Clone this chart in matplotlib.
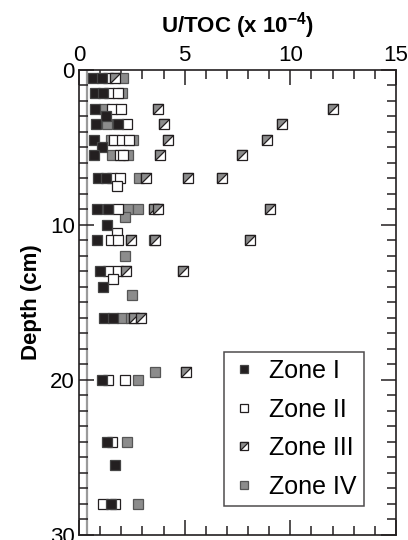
import matplotlib
matplotlib.use("Agg")
import matplotlib.pyplot as plt
from matplotlib.path import Path
from matplotlib.ticker import MultipleLocator
from matplotlib.legend_handler import HandlerTuple

plt.rcParams['font.family'] = ['Liberation Sans', 'DejaVu Sans']
plt.rcParams['mathtext.fontset'] = 'custom'
plt.rcParams['mathtext.rm'] = 'Liberation Sans:bold'
plt.rcParams['mathtext.bf'] = 'Liberation Sans:bold'

# depth (cm) and U/TOC (x 1e-4) for each zone
z1_depth = [0.5, 0.5, 1.5, 1.5, 2.5, 3.0, 3.5, 3.5, 4.5, 5.0, 5.5, 7.0, 7.0, 9.0, 9.0,
            10.0, 11.0, 13.0, 14.0, 16.0, 16.0, 20.0, 24.0, 25.5, 28.0]
z1_val = [0.68, 1.09, 0.76, 1.15, 0.76, 1.28, 0.79, 1.86, 0.73, 1.10, 0.73, 0.88, 1.28, 0.84, 1.39,
          1.34, 0.84, 0.99, 1.15, 1.18, 1.63, 1.07, 1.31, 1.70, 1.50]

z2_depth = [0.5, 1.5, 1.5, 2.5, 2.5, 3.5, 4.5, 4.5, 4.5, 5.5, 5.5, 7.0, 7.0, 7.5, 9.0,
            10.5, 11.0, 11.0, 13.0, 13.0, 13.5, 20.0, 20.0, 24.0, 28.0, 28.0]
z2_val = [1.39, 1.44, 1.83, 1.55, 2.00, 2.26, 1.67, 2.02, 2.37, 1.95, 2.10, 1.57, 1.96, 1.78, 1.86,
          1.78, 1.51, 1.86, 1.39, 1.86, 1.63, 1.39, 2.18, 1.55, 1.12, 1.70]

z3_depth = [0.5, 2.5, 2.5, 3.5, 3.5, 4.5, 4.5, 5.5, 5.5, 7.0, 7.0, 7.0, 9.0, 9.0, 9.0,
            11.0, 11.0, 11.0, 13.0, 13.0, 16.0, 16.0, 19.5]
z3_val = [1.70, 3.72, 12.0, 4.00, 9.61, 4.22, 8.88, 3.83, 7.71, 3.16, 5.14, 6.75, 3.55, 3.75, 9.04,
          2.45, 3.62, 8.09, 2.21, 4.94, 2.60, 2.95, 5.06]

z4_depth = [0.5, 1.5, 2.5, 3.5, 4.5, 4.5, 5.5, 5.5, 7.0, 9.0, 9.0, 9.5, 11.0, 12.0,
            14.5, 16.0, 16.0, 19.5, 20.0, 24.0, 28.0]
z4_val = [2.07, 2.05, 1.20, 1.34, 1.50, 2.55, 1.55, 2.33, 2.84, 2.30, 2.78, 2.18, 3.55, 2.18,
          2.52, 2.05, 2.45, 3.60, 2.78, 2.29, 2.78]

black = '#231f20'
grey = '#8c8c8c'
ms = 7.0

# upper-left half of a square, for the zone III symbol
half_sq = Path([(-1, -1), (-1, 1), (1, 1), (-1, -1)],
               [Path.MOVETO, Path.LINETO, Path.LINETO, Path.CLOSEPOLY])

fig = plt.figure(figsize=(4.08, 5.4), dpi=100)
ax = fig.add_axes([0.1936, 0.0093, 0.777, 0.8611])

ax.axvline(0.36, color='#9a9a9a', lw=1.6, zorder=1)

ax.plot(z4_val, z4_depth, 's', ms=ms, mfc=grey, mec='#555555', mew=0.9, zorder=3)
h2, = ax.plot(z2_val, z2_depth, 's', ms=ms, mfc='white', mec=black, mew=0.9, zorder=4)
h3a, = ax.plot(z3_val, z3_depth, 's', ms=ms, mfc='white', mec=black, mew=0.9, zorder=5)
h3b, = ax.plot(z3_val, z3_depth, ls='none', marker=half_sq, ms=ms, mfc=grey, mec=black,
               mew=0.9, zorder=5)
h1, = ax.plot(z1_val, z1_depth, 's', ms=ms, mfc=black, mec='#444444', mew=0.9, zorder=6)
h4, = ax.plot([], [], 's', ms=ms, mfc=grey, mec='#555555', mew=0.9)

ax.set_xlim(0, 15)
ax.set_ylim(30, 0)
ax.xaxis.set_major_locator(MultipleLocator(5))
ax.xaxis.set_minor_locator(MultipleLocator(1))
ax.yaxis.set_major_locator(MultipleLocator(10))
ax.yaxis.set_minor_locator(MultipleLocator(1))
ax.tick_params(which='both', direction='in', top=True, bottom=True, left=True, right=True,
               labeltop=True, labelbottom=False, labelsize=16, width=1.1, color='#231f20')
ax.tick_params(which='major', length=11, pad=3)
ax.tick_params(which='minor', length=6.5)
for s in ax.spines.values():
    s.set_linewidth(1.2)
    s.set_color('#231f20')

ax.xaxis.set_label_position('top')
ax.set_xlabel('U/TOC (x 10$^{-4}$)', fontsize=16, fontweight='bold', labelpad=9)
ax.set_ylabel('Depth (cm)', fontsize=16, fontweight='bold', labelpad=6)

leg = ax.legend([h1, h2, (h3a, h3b), h4], ['Zone I', 'Zone II', 'Zone III', 'Zone IV'],
                handler_map={tuple: HandlerTuple(ndivide=1)},
                loc='lower right', bbox_to_anchor=(0.899, 0.062), borderaxespad=0,
                fontsize=18, markerscale=0.75, frameon=True, fancybox=False,
                edgecolor='#231f20', handlelength=1.0, handletextpad=0.5,
                labelspacing=0.58, borderpad=0.3)
leg.get_frame().set_linewidth(1.1)

fig.savefig('out.png', dpi=100)
